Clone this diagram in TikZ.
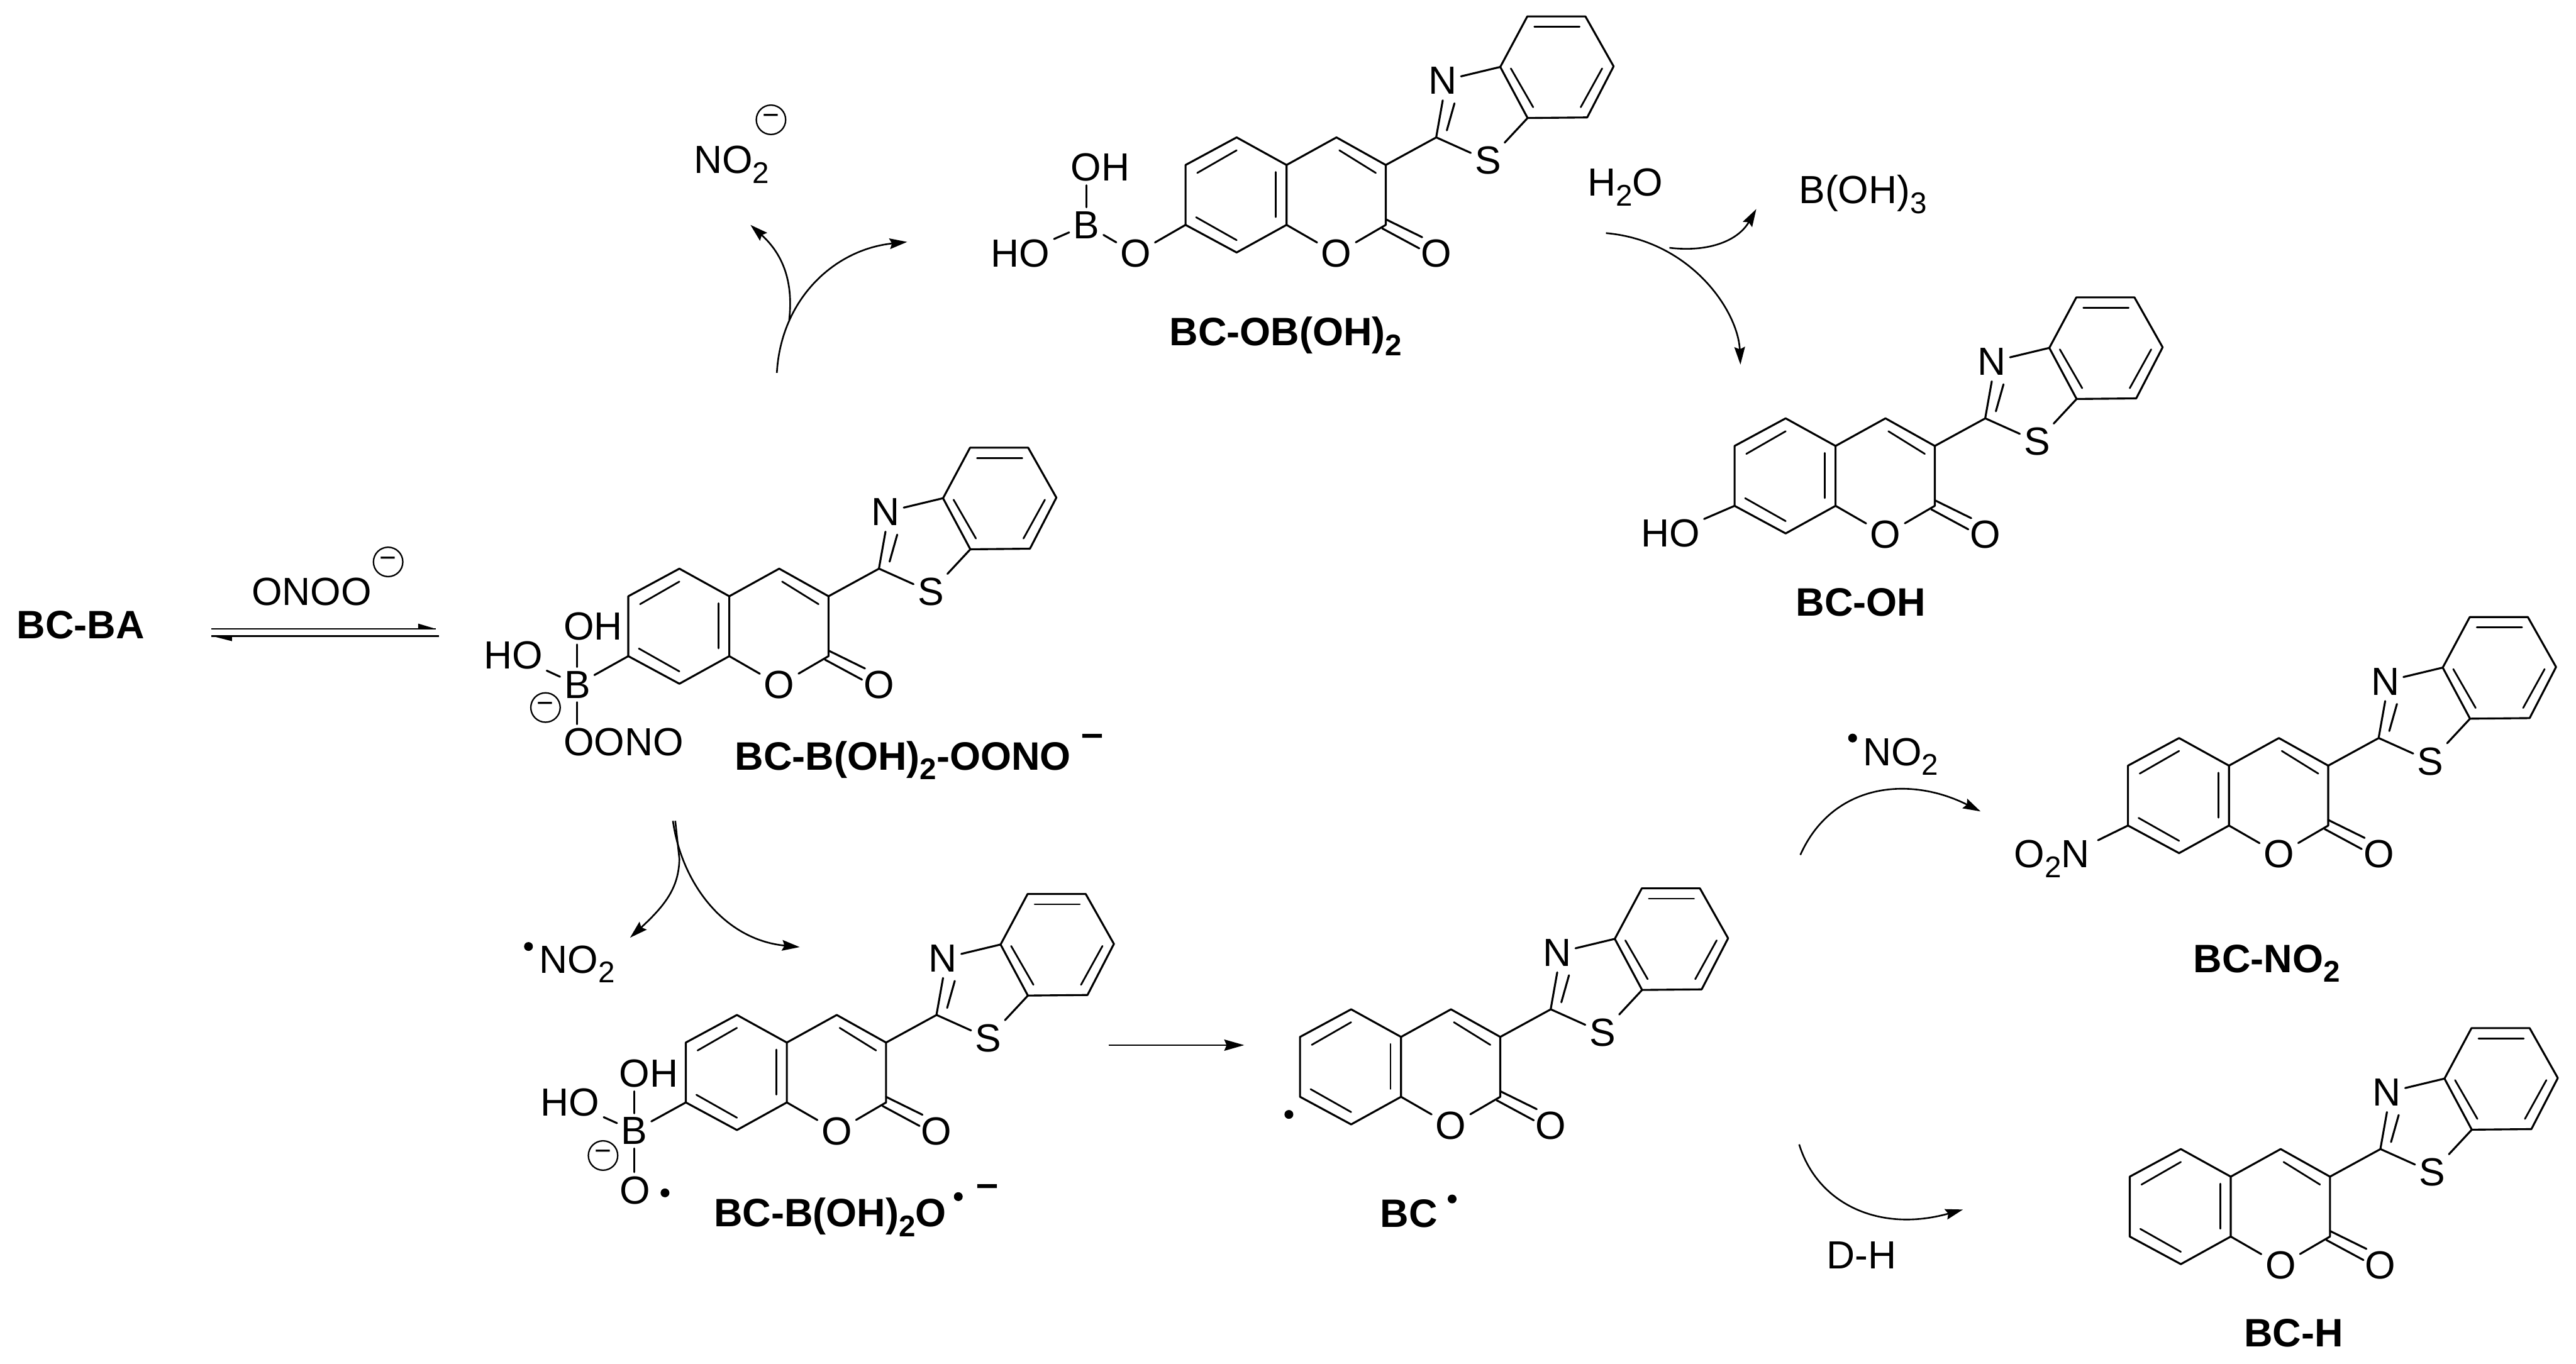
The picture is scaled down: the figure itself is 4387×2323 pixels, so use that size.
\documentclass[tikz,border=0pt]{standalone}
\usepackage{fontspec}
\setmainfont{Liberation Sans}
\usetikzlibrary{arrows.meta}
\newcommand\sbs[1]{\raisebox{-4.8pt}{\fontsize{14.5}{15}\selectfont #1}}
\tikzset{
  bond/.style={line width=0.95pt,line cap=round,line join=round},
  innerb/.style={line width=0.85pt,line cap=round},
  atom/.style={font=\fontsize{19}{20}\selectfont,inner sep=0.07cm,outer sep=0pt},
  lbl/.style={font=\fontsize{19}{20}\selectfont,inner sep=0pt,anchor=base west},
  name lbl/.style={font=\fontsize{19.2}{20}\selectfont\bfseries,inner sep=0pt,anchor=base west},
  chg/.style={circle,draw,line width=0.7pt,minimum size=0.5cm,inner sep=0pt,font=\fontsize{14}{14}\selectfont},
  rad/.style={circle,fill,minimum size=0.15cm,inner sep=0pt},
  rxn/.style={line width=0.8pt,-{Stealth[length=0.3cm,width=0.18cm,inset=0.04cm]}},
  rxnplain/.style={line width=0.8pt},
  bcmol/.pic={
    \coordinate (-ul) at (0,0);
    \coordinate (-ll) at (0,102);
    \coordinate (-bot) at (87,149);
    \coordinate (-c8a) at (172,102);
    \coordinate (-c4a) at (172,0);
    \coordinate (-top) at (87,-47);
    \coordinate (-c4) at (257,-47);
    \coordinate (-c3) at (341,0);
    \coordinate (-c2) at (341,102);
    \coordinate (-cp) at (427,-47);
    \coordinate (-c7a) at (582.5,-80);
    \coordinate (-c3a) at (536,-167);
    \coordinate (-b1) at (582,-253);
    \coordinate (-b2) at (681,-253);
    \coordinate (-b3) at (729,-168);
    \coordinate (-b4) at (684,-81);
    \node[atom] (-O1) at (257,151) {O};
    \node[atom] (-Oc) at (427,151) {O};
    \node[atom] (-N) at (438,-143.5) {N};
    \node[atom] (-S) at (515,-7.5) {S};
    \draw[bond] (-top) -- (-ul) -- (-ll) -- (-bot) -- (-c8a) -- (-c4a) -- cycle;
    \draw[bond] (-c4a) -- (-c4) -- (-c3) -- (-c2);
    \draw[bond] (-c8a) -- (-O1);
    \draw[bond] (-c2) -- (-O1);
    \draw[bond] (-c3) -- (-cp) -- (-S);
    \draw[bond] (-S) -- (-c7a);
    \draw[bond] (-N) -- (-c3a);
    \draw[bond] (-c3a) -- (-b1) -- (-b2) -- (-b3) -- (-b4) -- (-c7a) -- cycle;
    \draw[innerb] (20,13.5) -- (87,-25);
    \draw[innerb] (18,89) -- (87,128);
    \draw[innerb] (154,12) -- (154,88.6);
    \draw[innerb] (262,-25) -- (324,13.5);
    \draw[bond] (341,92.5) -- (403,123);
    \draw[bond] (335,108) -- (398,142);
    \draw[bond] (427,-48) -- (438,-110);
    \draw[bond] (445,-59) -- (458,-105);
    \draw[innerb] (594,-235.5) -- (671,-235.5);
    \draw[innerb] (709.5,-164.4) -- (673,-98.4);
    \draw[innerb] (554,-164.4) -- (592,-98.4);
  }
}
\begin{document}
\begin{tikzpicture}[x=0.01cm,y=-0.01cm]
\useasboundingbox (0,0) rectangle (4387,2323);
% molecules
\pic (m1) at (2019,281) {bcmol};
\pic (m2) at (1070,1015.5) {bcmol};
\pic (m3) at (1168,1775.6) {bcmol};
\pic (m4) at (2214,1766) {bcmol};
\pic (m5) at (3624,1304) {bcmol};
\pic (m6) at (3627,2004) {bcmol};
\pic (m7) at (2954,759.5) {bcmol};
% m1 substituents
\node[atom] (m1B) at (1850,383) {B};
\node[atom] (m1OH) at (1874,285) {OH};
\node[atom] (m1HO) at (1738,432) {HO};
\node[atom] (m1O) at (1934,432) {O};
\draw[bond] (m1B.north) -- (m1B.north |- m1OH.south);
\draw[bond] (m1HO) -- (m1B);
\draw[bond] (m1B) -- (m1O);
\draw[bond] (m1O) -- (m1-ll);
\node[name lbl] (m1name) at (1991,589) {BC-OB(OH)\sbs{2}};
% m2 substituents
\node[atom] (m2B) at (983,1166) {B};
\node[atom] (m2OH) at (1010,1067) {OH};
\node[atom] (m2HO) at (874,1116) {HO};
\node[atom] (m2OONO) at (1062,1264) {OONO};
\node[chg] (m2chg) at (929,1205) {−};
\draw[bond] (m2B.north) -- (m2B.north |- m2OH.south);
\draw[bond] (m2B.south) -- (m2B.south |- m2OONO.north);
\draw[bond] (m2HO) -- (m2B);
\draw[bond] (m2B) -- (m2-ll);
\node[name lbl] (m2name) at (1251,1311) {BC-B(OH)\sbs{2}-OONO};
\node[name lbl,anchor=center] (m2minus) at (1860,1261) {–};
% m3 substituents
\node[atom] (m3B) at (1080,1926) {B};
\node[atom] (m3OH) at (1105,1828) {OH};
\node[atom] (m3HO) at (971,1877) {HO};
\node[atom] (m3O) at (1081,2027) {O};
\node[rad] (m3dot) at (1132.5,2031.6) {};
\node[chg] (m3chg) at (1027,1968) {−};
\draw[bond] (m3B.north) -- (m3B.north |- m3OH.south);
\draw[bond] (m3B.south) -- (m3B.south |- m3O.north);
\draw[bond] (m3HO) -- (m3B);
\draw[bond] (m3B) -- (m3-ll);
\node[name lbl] (m3name) at (1215,2089) {BC-B(OH)\sbs{2}O};
\node[rad] (m3namedot) at (1632,2038) {};
\node[name lbl,anchor=center] (m3minus) at (1682,2028) {–};
% m4
\node[rad] (m4dot) at (2195,1898) {};
\node[name lbl] (m4name) at (2350,2090) {BC};
\node[rad] (m4namedot) at (2473,2042) {};
% m5
\node[atom,anchor=base west,inner sep=0pt] (m5O2N) at (3430,1477.6) {O\sbs{2}N};
\coordinate (m5bond) at (3573,1431);
\draw[bond] (m5-ll) -- (m5bond);
\node[name lbl] (m5name) at (3735,1656) {BC-NO\sbs{2}};
% m6
\node[name lbl] (m6name) at (3821,2294) {BC-H};
% m7
\node[atom] (m7HO) at (2845,908.5) {HO};
\draw[bond] (m7HO) -- (m7-ll);
\node[name lbl] (m7name) at (3058,1049.5) {BC-OH};
% reagents
\node[name lbl] (bcba) at (28,1088) {BC-BA};
\node[lbl] (onoo) at (428,1031) {ONOO};
\node[chg] (onoochg) at (661,957) {−};
\node[lbl] (no2a) at (1181,295) {NO\sbs{2}};
\node[chg] (no2achg) at (1313,204) {−};
\node[rad] (no2bdot) at (900,1612) {};
\node[lbl] (no2b) at (918,1657) {NO\sbs{2}};
\node[rad] (no2cdot) at (3155,1257) {};
\node[lbl] (no2c) at (3172,1303.5) {NO\sbs{2}};
\node[lbl] (h2o) at (2703,334) {H\sbs{2}O};
\node[lbl] (boh3) at (3063,346.5) {B(OH)\sbs{3}};
\node[lbl] (dh) at (3110,2161) {D-H};
% equilibrium arrow
\coordinate (eqTa) at (360,1071);
\coordinate (eqTb) at (742,1071);
\coordinate (eqBa) at (748,1083);
\coordinate (eqBb) at (360,1083);
\draw[rxnplain] (eqTa) -- (eqTb);
\fill (eqTb) -- (712,1062) -- (712,1071) -- cycle;
\draw[rxnplain,line width=1pt] (eqBa) -- (eqBb);
\fill (eqBb) -- (395,1092) -- (395,1083) -- cycle;
% upper left branching arrow
\coordinate (ulS) at (1323,635);
\coordinate (ulJ) at (1344,545);
\coordinate (ulA) at (1278,383);
\coordinate (ulB) at (1545,412);
\draw[rxn] (ulS) .. controls (1330,510) and (1420,425) .. (ulB);
\draw[rxn] (ulJ) .. controls (1352,475) and (1330,430) .. (ulA);
% lower left branching arrow
\coordinate (llS) at (1146,1398);
\coordinate (llJ) at (1157,1463);
\coordinate (llA) at (1073,1597);
\coordinate (llB) at (1362,1613);
\draw[rxn] (llS) .. controls (1160,1500) and (1230,1600) .. (llB);
\draw[rxn] (1150,1398) -- (llJ) .. controls (1156,1510) and (1135,1540) .. (llA);
% horizontal arrow
\coordinate (hS) at (1888,1780);
\coordinate (hE) at (2119,1780);
\draw[rxn,-{Stealth[length=0.34cm,width=0.19cm,inset=0.04cm]}] (hS) -- (hE);
% water arrow
\coordinate (wS) at (2735,397);
\coordinate (wJ) at (2843,422);
\coordinate (wA) at (2964,621);
\coordinate (wB) at (2991,356);
\draw[rxn] (wS) .. controls (2880,410) and (2960,530) .. (wA);
\draw[rxn] (wJ) .. controls (2910,430) and (2960,410) .. (wB);
% NO2 arrow
\coordinate (nS) at (3066,1456);
\coordinate (nE) at (3373,1382);
\draw[rxn] (nS) .. controls (3120,1335) and (3250,1320) .. (nE);
% D-H arrow
\coordinate (dS) at (3064,1949);
\coordinate (dE) at (3343,2060);
\draw[rxn] (dS) .. controls (3095,2050) and (3200,2100) .. (dE);
\end{tikzpicture}
\end{document}
